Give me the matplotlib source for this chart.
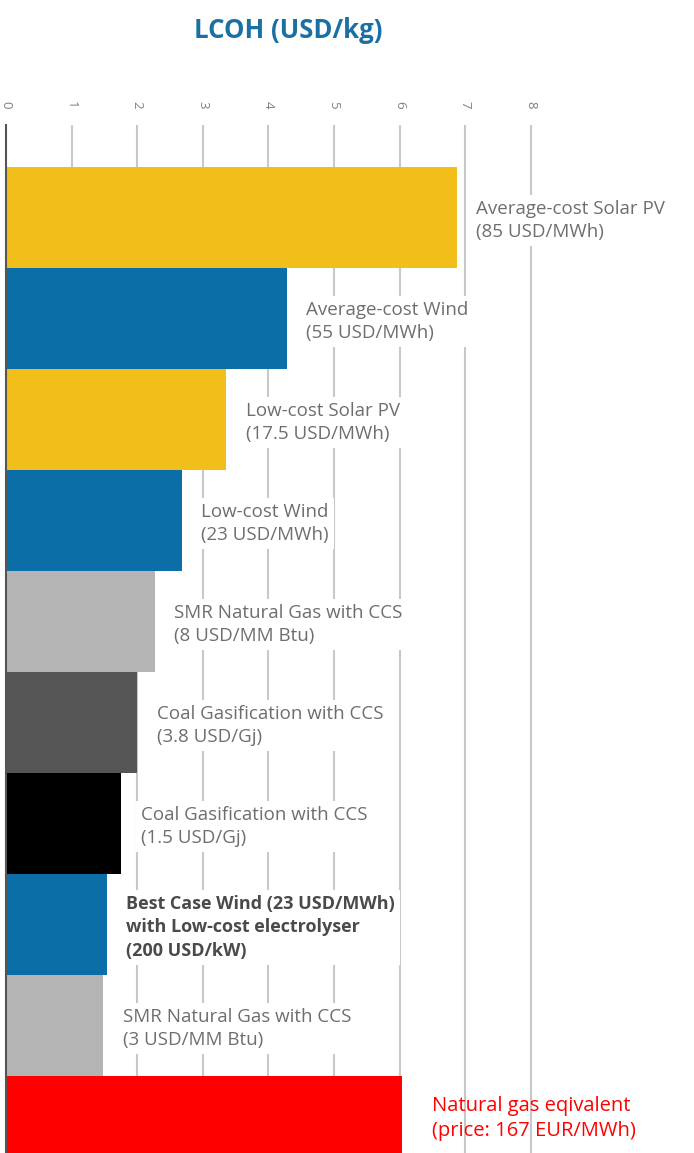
import matplotlib.pyplot as plt

# LCOH values (USD/kg), top to bottom
labels = [
    "Average-cost Solar PV\n(85 USD/MWh)",
    "Average-cost Wind\n(55 USD/MWh)",
    "Low-cost Solar PV\n(17.5 USD/MWh)",
    "Low-cost Wind\n(23 USD/MWh)",
    "SMR Natural Gas with CCS\n(8 USD/MM Btu)",
    "Coal Gasification with CCS\n(3.8 USD/Gj)",
    "Coal Gasification with CCS\n(1.5 USD/Gj)",
    "Best Case Wind (23 USD/MWh)\nwith Low-cost electrolyser\n(200 USD/kW)",
    "SMR Natural Gas with CCS\n(3 USD/MM Btu)",
    "Natural gas eqivalent\n(price: 167 EUR/MWh)",
]
values = [6.87, 4.28, 3.36, 2.68, 2.27, 2.0, 1.76, 1.54, 1.48, 6.03]
colors = ["#F2BE1A", "#0B6EA6", "#F2BE1A", "#0B6EA6", "#B4B4B4",
          "#555555", "#000000", "#0B6EA6", "#B4B4B4", "#FF0000"]
ticks = [0, 1, 2, 3, 4, 5, 6, 7, 8]

plt.rcParams['font.family'] = ['Open Sans', 'DejaVu Sans']

fig = plt.figure(figsize=(6.94, 11.53), dpi=100)
ax = fig.add_axes([6 / 694, 0, 688 / 694, 1 - 125 / 1153])

y = list(range(len(values)))
ax.barh(y, values, height=1.0, color=colors, zorder=2)

# light vertical grid lines
for t in ticks[1:]:
    ax.axvline(t, color="#C8C8C8", lw=1.5, zorder=1)

ax.set_xlim(0, 688 / 65.6)
ax.set_ylim(9.26, -0.916)

ax.xaxis.tick_top()
ax.set_xticks(ticks)
ax.set_xticklabels([str(t) for t in ticks], rotation=-90, color="#808080", fontsize=9.5)
ax.tick_params(axis="x", length=0, pad=12)
ax.set_yticks([])

for s in ["top", "right", "bottom"]:
    ax.spines[s].set_visible(False)
ax.spines["left"].set_color("#555555")
ax.spines["left"].set_linewidth(1.5)

for i, (lab, v) in enumerate(zip(labels, values)):
    if i == len(values) - 1:
        ax.annotate(lab, (v, i), xytext=(22, 6), textcoords="offset points",
                    va="center", ha="left", color="#FF0000", fontsize=14.5,
                    linespacing=1.3, zorder=3)
    else:
        bold = i == 7
        ax.annotate(lab, (v, i), xytext=(14, -2), textcoords="offset points",
                    va="center", ha="left",
                    color="#4A4A4A" if bold else "#6E6E6E",
                    fontsize=13.5 if not bold else 13, 
                    fontweight="bold" if bold else "normal",
                    linespacing=1.4, zorder=3,
                    bbox=dict(boxstyle="square,pad=0.25", fc="white", ec="none"))

fig.text(288 / 694, 1 - 30 / 1153, "LCOH (USD/kg)", ha="center", va="center",
         fontsize=18.5, fontweight="bold", color="#1A6FA3")

fig.savefig("out.png", dpi=100)
